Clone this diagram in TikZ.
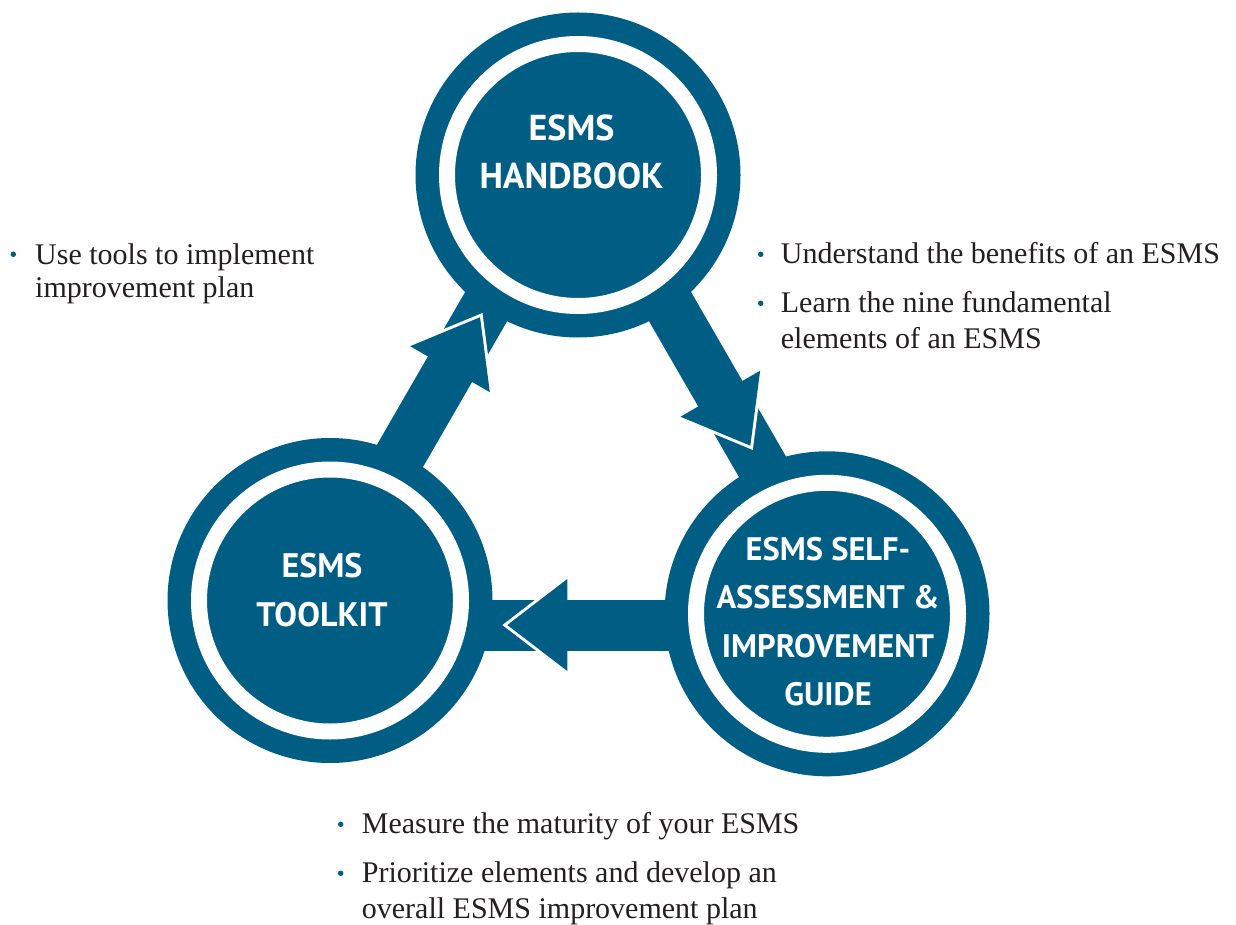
\documentclass[tikz,border=0pt]{standalone}
\usepackage{fontspec}
\setmainfont{Liberation Serif}
\newfontfamily\headfont{PT Sans}
\definecolor{esmsblue}{RGB}{0,94,133}
\definecolor{bodytext}{RGB}{35,31,32}
\tikzset{
  disk/.style={circle, fill=esmsblue, inner sep=0pt, minimum size=325pt},
  ring/.style={draw=white, line width=16pt},
  title/.style={text=white, align=center, inner sep=0pt,
    font=\headfont\bfseries\fontsize{#1}{48.5}\selectfont},
  title/.default=36,
  body/.style={text=bodytext, anchor=base west, inner sep=0pt,
    font=\fontsize{30}{#1}\selectfont},
  body/.default=35.5,
  bulletdot/.style={circle, fill=esmsblue, inner sep=0pt, minimum size=5.5pt},
  band/.style={fill=esmsblue},
  headfill/.style={fill=esmsblue},
  headedge/.style={draw=white, line width=6pt, line join=miter},
}
\begin{document}
\begin{tikzpicture}[x=1pt,y=-1pt]
\useasboundingbox (0,0) rectangle (1236,925);

% ---- arrows (bands with heads) ----
% handbook -> self-assessment
\begin{scope}[shift={(720.3,393.7)}, rotate=-60]
  \coordinate (a1) at (0,0);
  \fill[band] (-230,-25.5) rectangle (200,25.5);
  \draw[headedge] (0,-46) -- (60,0) -- (0,46);
  \fill[headfill] (0,-46) -- (60,0) -- (0,46) -- cycle;
\end{scope}
% self-assessment -> toolkit
\begin{scope}[shift={(567.3,625)}, rotate=-180]
  \coordinate (a2) at (0,0);
  \fill[band] (-200,-25.5) rectangle (220,25.5);
  \draw[headedge] (0,-46) -- (60,0) -- (0,46);
  \fill[headfill] (0,-46) -- (60,0) -- (0,46) -- cycle;
\end{scope}
% toolkit -> handbook
\begin{scope}[shift={(450,369.2)}, rotate=60]
  \coordinate (a3) at (0,0);
  \fill[band] (-220,-25.5) rectangle (210,25.5);
  \draw[headedge] (0,-46) -- (60,0) -- (0,46);
  \fill[headfill] (0,-46) -- (60,0) -- (0,46) -- cycle;
\end{scope}

% ---- circles ----
\node[disk] (hb) at (578,175) {};
\node[disk] (tk) at (330,600.5) {};
\node[disk] (sa) at (827,613.8) {};
\foreach \c in {hb,tk,sa} \draw[ring] (\c.center) circle (131);

\node[title=36] (hbt) at (571.5,151.7) {ESMS\\HANDBOOK};
\node[title=34] (tkt) at (322,590.3) {ESMS\\TOOLKIT};
\node[title=32.5] (sat) at (828,621.8) {ESMS SELF-\\ASSESSMENT \&\\IMPROVEMENT\\GUIDE};

% ---- bullet texts ----
\node[bulletdot] (d1) at (13.3,254.3) {};
\node[body=33] (t1) at (35,264.3) {\begin{tabular}[t]{@{}l@{}}Use tools to implement\\improvement plan\end{tabular}};

\node[bulletdot] (d2) at (760.7,254.3) {};
\node[body] (t2) at (780.7,263.3) {Understand the benefits of an ESMS};
\node[bulletdot] (d3) at (760.7,303.3) {};
\node[body] (t3) at (780.7,312.7) {\begin{tabular}[t]{@{}l@{}}Learn the nine fundamental\\elements of an ESMS\end{tabular}};

\node[bulletdot] (d4) at (340.7,824.3) {};
\node[body] (t4) at (361.7,833.3) {Measure the maturity of your ESMS};
\node[bulletdot] (d5) at (340.7,873.3) {};
\node[body] (t5) at (361.7,882.7) {\begin{tabular}[t]{@{}l@{}}Prioritize elements and develop an\\overall ESMS improvement plan\end{tabular}};
\end{tikzpicture}
\end{document}
